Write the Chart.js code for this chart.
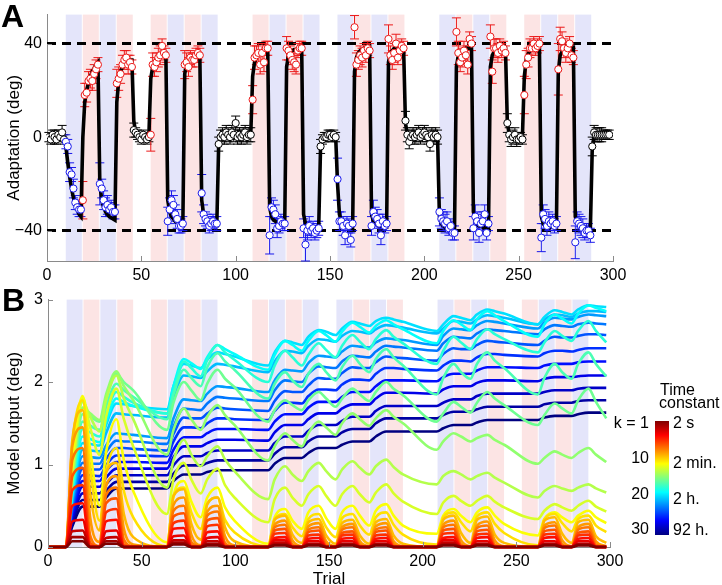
<!DOCTYPE html>
<html><head><meta charset="utf-8">
<script src="https://cdn.jsdelivr.net/npm/chart.js@4"></script>
<style>
html,body{margin:0;padding:0;background:#fff;}
#wrap{position:relative;width:722px;height:585px;overflow:hidden;font-family:"Liberation Sans",Arial,Helvetica,sans-serif;}
canvas{position:absolute;left:0;}
#cA{top:0;} #cB{top:285px;}
.lbl{position:absolute;color:#000;white-space:nowrap;line-height:16px;font-size:16px;}
.big{position:absolute;font-weight:bold;font-size:32px;line-height:32px;}
#cbar{position:absolute;left:655px;top:421px;width:14px;height:114px;
background:linear-gradient(to bottom,#800000 0%,#ff0000 12.5%,#ffff00 37.5%,#00ffff 62.5%,#0000ff 87.5%,#000080 100%);}
</style></head><body>
<div id="wrap">
<canvas id="cA" width="722" height="292"></canvas>
<canvas id="cB" width="722" height="300"></canvas>
<div class="big" style="left:1px;top:0px;">A</div>
<div class="big" style="left:2px;top:284px;">B</div>
<div id="cbar"></div>
<div class="lbl" style="left:660px;top:382px;">Time</div>
<div class="lbl" style="left:659px;top:395px;">constant</div>
<div class="lbl" style="right:73px;top:415px;">k = 1</div>
<div class="lbl" style="right:73px;top:450px;">10</div>
<div class="lbl" style="right:73px;top:486px;">20</div>
<div class="lbl" style="right:73px;top:521px;">30</div>
<div class="lbl" style="left:673px;top:415px;">2 s</div>
<div class="lbl" style="left:673px;top:455px;">2 min.</div>
<div class="lbl" style="left:673px;top:491px;">2 h.</div>
<div class="lbl" style="left:673px;top:522px;">92 h.</div>
</div>
<script>
// ---------- Blocks (perturbation schedule) ----------
const blockStart = [10,19,28,37,55,64,73,82,109,118,127,136,154,163,172,181,208,217,226,235,253,262,271,280];
const blockEnd   = [18,27,36,45,63,72,81,90,117,126,135,144,162,171,180,189,216,225,234,243,261,270,279,288];
const blockType  = ['B','R','B','R','R','B','R','B','R','B','R','B','B','R','B','R','B','R','B','R','R','B','R','B'];

// ---------- Panel A: measured adaptation (deg), trials 1..298 ----------
const adaptation = [
0,-1,1,0,-1,1,0,2,-1,
-2,-4,-15,-16,-22,-28,-30,-31,-31,
-27,18,19,24,25,24,27,29,31,
-20,-22,-27,-30,-29,-31,-30,-32,-32,
23,25,27,31,33,34,31,32,30,
3,2,1,0,-1,1,0,-1,0,
1,31,30,32,34,35,39,36,35,
-36,-31,-27,-29,-33,-35,-38,-38,-37,
31,32,30,34,33,33,35,36,35,
-24,-33,-35,-36,-38,-37,-36,-37,-37,
-3,0,1,0,2,1,0,2,1,6,0,1,0,1,2,0,1,1,
16,34,35,36,31,36,32,38,38,
-42,-30,-31,-33,-39,-38,-36,-37,-37,
38,37,35,33,32,31,37,38,38,
-39,-46,-40,-38,-40,-39,-41,-40,-39,
-4,-1,0,0,1,1,0,1,0,
-18,-36,-36,-38,-42,-37,-38,-44,-37,
47,31,33,35,34,37,35,38,37,
-38,-32,-34,-35,-37,-42,-36,-38,-37,
42,35,33,36,40,34,37,39,38,
7,1,-2,0,1,0,1,2,0,1,2,1,0,-3,1,0,1,0,
-32,-35,-36,-37,-36,-39,-38,-41,-41,
45,36,32,34,37,35,31,42,40,
-39,-34,-36,-41,-37,-36,-33,-41,-37,
43,28,38,38,36,39,37,38,36,
6,1,-1,0,1,-1,-1,0,-1,
18,31,34,38,38,40,38,39,40,
-43,-33,-35,-38,-36,-37,-36,-38,-37,
29,42,41,38,36,38,40,35,34,
-45,-36,-37,-38,-39,-41,-40,-40,-42,
-4,2,1,1,1,1,1,1,1,1];

const adaptErr = [
2,2,2,3,2,2,2,3,2,
3,3,4,3,4,3,3,3,3,
8,5,4,4,4,4,4,4,3,
9,4,4,4,4,3,3,3,3,
6,5,4,4,4,3,4,3,3,
3,2,2,2,2,2,2,2,2,
7,5,4,4,4,4,3,3,3,
6,5,4,4,4,4,3,3,3,
6,4,4,3,3,3,3,3,3,
8,4,3,3,3,3,3,3,3,
3,3,3,3,3,3,3,3,3,3,3,3,3,3,3,3,3,3,
6,5,4,4,4,4,4,3,3,
8,4,4,4,4,3,3,3,3,
5,4,4,4,4,4,3,3,3,
4,7,4,4,3,3,3,3,3,
3,2,2,2,2,2,2,2,2,
9,4,4,4,4,3,3,3,3,
5,5,4,4,4,3,3,3,3,
4,5,4,4,4,4,3,3,3,
6,4,4,4,4,3,3,3,3,
4,3,3,3,3,3,3,3,3,3,3,3,3,3,3,3,3,3,
6,4,4,4,4,3,3,3,3,
6,5,4,4,4,4,4,3,3,
5,5,4,4,4,4,4,3,3,
5,5,4,4,4,3,3,3,3,
4,3,3,3,3,3,2,2,2,
8,6,4,4,3,3,3,3,3,
6,4,4,4,4,3,3,3,3,
11,5,4,4,4,3,3,3,3,
7,4,4,4,4,3,3,3,3,
4,3,3,3,3,3,2,2,2,2];

const modelFit = [
0,0,0,0,0,0,0,0,0,
-4,-11,-17,-22,-26,-29,-31,-33,-34,
0,15,20,23,26,28,29.5,31,32,
-20,-27,-30,-32,-33,-34,-34.5,-35,-35.5,
15,24,28,30,31,32,32.5,33,33,
7,2,1,0.5,0.5,0.5,0.5,0.5,0.5,
25,30,32,33,34,35,35.5,36,36,
-27,-32,-34,-35,-36,-36.5,-37,-37,-37.5,
27,32,33,34,34.5,35,35,35.5,35.5,
-27,-33,-35,-36,-36.5,-37,-37,-37,-37.5,
-3,0,0.5,1,1,1,1,1,1,1,1,1,1,1,1,1,1,1,
26,32,34,35,36,36.5,37,37.5,38,
-30,-34,-35.5,-36,-36.5,-37,-37,-37.5,-37.5,
30,35,36,37,37.5,37.5,38,38,38,
-33,-37,-38,-38.5,-38.5,-39,-39,-39,-39,
-4,-1,0,0.5,0.5,0.5,0.5,0.5,0.5,
-20,-33,-36,-37,-38,-38.5,-38.5,-38.5,-39,
28,34,36,37,37.5,38,38,38,38.5,
-33,-36,-37,-37.5,-38,-38,-38,-38.5,-38.5,
32,36,37,38,38,38.5,38.5,38.5,38.5,
6,1,0.5,0.5,0.5,0.5,0.5,0.5,0.5,0.5,0.5,0.5,0.5,0.5,0.5,0.5,0.5,0.5,
-34,-37,-38,-38.5,-39,-39,-39.5,-39.5,-39.5,
30,35,36.5,37,37.5,38,38,38,38.5,
-32,-36,-37.5,-38,-38,-38.5,-38.5,-38.5,-39,
30,35,36.5,37,37.5,38,38,38,38,
6,1.5,0.5,0.5,0.5,0.5,0.5,0.5,0.5,
26,33,35.5,37,38,38.5,39,39,39,
-34,-37,-38,-38,-38.5,-38.5,-38.5,-39,-39,
28,35,36.5,37.5,38,38,38.5,38.5,38.5,
-34,-37,-38,-38.5,-39,-39,-39,-39.5,-39.5,
-5,0,1,1,1,1,1,1,1,1];

const targetLevels = [40, -40];
const ticksXTrial = [0,50,100,150,200,250,300];
const ticksYAdapt = [-40,0,40];
const ticksYModel = [0,1,2,3];

// ---------- Panel B: model output per component k = 1..30 ----------
const modelX = [0,9.5,13,18.5,22.5,27.5,31,36.5,40.5,45.5,63.5,67,72.5,76.5,81.5,85,90.5,94.5,99.5,117.5,121,126.5,130.5,135.5,139,144.5,148.5,153.5,157,162.5,166.5,171.5,175,180.5,184.5,189.5,207.5,211,216.5,220.5,225.5,229,234.5,238.5,243.5,261.5,265,270.5,274.5,279.5,283,288.5,292.5,298];
const outputByK = [
/*k=1*/ [0,0,.07,.07,0,0, .04,.04,0,0,0, .03,.03,0,0, .02,.02,0,0,0, .02,.02,0,0, .02,.02,0,0, .02,.02,0,0, .02,.02,0,0,0, .02,.02,0,0, .02,.02,0,0,0, .02,.02,0,0, .02,.02,0,0],
/*k=2*/ [0,0,.12,.12,0,0, .07,.07,0,0,0, .05,.05,0,0, .04,.04,0,0,0, .03,.03,0,0, .03,.03,0,0, .03,.03,0,0, .03,.03,0,0,0, .03,.03,0,0, .03,.03,0,0,0, .03,.03,0,0, .03,.03,0,0],
/*k=3*/ [0,0,.19,.2,0,0, .11,.12,0,0,0, .08,.08,0,0, .07,.07,0,0,0, .05,.05,0,0, .04,.04,0,0, .04,.04,0,0, .04,.04,0,0,0, .05,.05,0,0, .04,.04,0,0,0, .04,.04,0,0, .04,.04,0,0],
/*k=4*/ [0,0,.31,.33,0,0, .19,.2,0,0,0, .13,.14,0,0, .11,.12,0,0,0, .08,.08,0,0, .07,.07,0,0, .07,.07,0,0, .07,.07,0,0,0, .08,.08,0,0, .07,.07,0,0,0, .07,.07,0,0, .07,.07,0,0],
/*k=5*/ [0,0,.50,.53,0,0, .31,.33,0,0,0, .22,.23,0,0, .18,.19,0,0,0, .11,.12,0,0, .10,.11,0,0, .10,.11,0,0, .10,.11,0,0,0, .11,.12,0,0, .11,.12,0,0,0, .11,.12,0,0, .10,.11,0,0],
/*k=6*/ [0,0,.69,.75,.01,0, .42,.46,0,0,0, .29,.32,0,0, .25,.27,0,0,0, .16,.17,0,0, .14,.15,0,0, .14,.15,0,0, .14,.15,0,0,0, .16,.17,0,0, .15,.16,0,0,0, .15,.16,0,0, .14,.15,0,0],
/*k=7*/ [0,0,.86,.96,.05,0, .53,.59,.03,0,0, .37,.41,.02,0, .32,.35,.02,0,0, .20,.22,.01,0, .18,.20,.01,0, .17,.19,.01,0, .18,.20,.01,0,0, .20,.22,.01,0, .19,.21,.01,0,0, .19,.21,.01,0, .17,.19,.01,0],
/*k=8*/ [0,0,1.06,1.2,.14,.01, .63,.72,.09,.01,0, .44,.5,.06,.01, .38,.43,.05,0,0, .24,.27,.03,0, .21,.24,.03,0, .21,.24,.03,0, .21,.24,.03,0,0, .24,.27,.03,0, .23,.26,.03,0,0, .23,.26,.03,0, .21,.24,.03,0],
/*k=9*/ [0,0,1.23,1.45,.36,.06, .74,.86,.22,.03,0, .51,.60,.15,.02, .43,.50,.13,.02,0, .27,.32,.08,.01, .25,.29,.07,.01, .24,.28,.07,.01, .25,.29,.07,.01,0, .27,.32,.08,.01, .26,.31,.08,.01,0, .26,.30,.08,.01, .24,.28,.07,.01],
/*k=10*/[0,0,1.30,1.66,.66,.20, .90,1.02,.40,.12,0, .62,.70,.28,.09, .52,.60,.24,.07,0, .33,.38,.15,.05, .30,.34,.14,.04, .29,.33,.14,.04, .30,.34,.14,.04,0, .33,.38,.17,.05, .33,.37,.15,.05,0, .32,.36,.16,.05, .30,.33,.13,.05],
/*k=11*/[0,0,1.25,1.78,.95,.32, .92,1.20,.68,.36,.01, .62,.72,.42,.22, .52,.60,.33,.18,.01, .34,.40,.24,.13, .34,.40,.24,.12, .35,.40,.26,.15, .36,.42,.27,.15,.03, .36,.42,.30,.19, .37,.42,.28,.17,.02, .34,.40,.29,.19, .34,.38,.26,.18],
/*k=12*/[0,0,1.05,1.83,1.18,.50, 1.15,1.55,1.05,.68,.06, .62,.80,.55,.36, .60,.72,.48,.32,.04, .36,.46,.32,.22, .42,.50,.35,.22, .42,.50,.38,.26, .44,.52,.38,.26,.16, .38,.46,.38,.30, .42,.48,.38,.28,.14, .34,.42,.36,.30, .38,.44,.36,.29],
/*k=13*/[0,0,.92,1.81,1.45,1.12, 1.58,1.92,1.55,1.22,.40, .82,1.02,.82,.65, .82,.95,.75,.60,.30, .58,.72,.60,.50, .64,.74,.62,.50, .64,.74,.64,.54, .66,.76,.65,.55,.40, .54,.62,.56,.50, .56,.62,.55,.48,.34, .44,.52,.48,.44, .50,.56,.49,.43],
/*k=14*/[0,0,.88,1.76,1.58,1.40, 1.78,2.08,1.80,1.55,.72, 1.05,1.30,1.12,.98, 1.10,1.22,1.06,.92,.58, .82,.98,.88,.80, .92,1.02,.92,.82, .94,1.04,.96,.88, .98,1.06,.97,.88,.76, .86,.92,.88,.82, .86,.90,.84,.78,.60, .68,.74,.71,.68, .72,.76,.71,.66],
/*k=15*/[0,0,.82,1.69,1.62,1.54, 1.85,2.13,1.95,1.78,1.12, 1.42,1.68,1.55,1.42, 1.58,1.72,1.60,1.48,1.05, 1.22,1.38,1.30,1.22, 1.38,1.52,1.45,1.36, 1.50,1.62,1.55,1.47, 1.56,1.66,1.58,1.50,1.18, 1.28,1.38,1.34,1.28, 1.32,1.36,1.30,1.24,1.01, 1.08,1.16,1.12,1.08, 1.14,1.20,1.12,1.03],
/*k=16*/[0,0,.78,1.61,1.58,1.52, 1.80,2.10,2.00,1.90,1.42, 1.75,2.00,1.90,1.78, 1.98,2.15,2.04,1.94,1.52, 1.66,1.78,1.72,1.66, 1.78,1.88,1.80,1.70, 1.80,1.92,1.85,1.77, 1.88,2.00,1.92,1.84,1.52, 1.62,1.76,1.70,1.63, 1.75,1.88,1.80,1.72,1.48, 1.60,1.74,1.68,1.62, 1.78,1.92,1.76,1.56],
/*k=17*/[0,0,.74,1.52,1.47,1.42, 1.70,1.98,1.90,1.82,1.55, 1.85,2.15,2.05,1.95, 2.18,2.35,2.25,2.15,1.80, 1.98,2.12,2.02,1.94, 2.10,2.22,2.12,2.02, 2.18,2.32,2.22,2.12, 2.28,2.40,2.30,2.20,1.85, 2.05,2.22,2.12,2.04, 2.22,2.36,2.26,2.17,1.85, 2.05,2.22,2.12,2.04, 2.22,2.36,2.22,2.07],
/*k=18*/[0,0,.70,1.43,1.39,1.34, 1.60,1.88,1.82,1.75,1.62, 1.88,2.25,2.17,2.07, 2.27,2.45,2.36,2.27,2.00, 2.20,2.38,2.30,2.20, 2.33,2.47,2.39,2.30, 2.44,2.57,2.49,2.40, 2.52,2.63,2.55,2.47,2.22, 2.38,2.55,2.48,2.40, 2.52,2.64,2.58,2.52,2.36, 2.48,2.62,2.56,2.50, 2.62,2.74,2.62,2.48],
/*k=19*/[0,0,.66,1.34,1.31,1.27, 1.52,1.80,1.76,1.71,1.62, 1.95,2.28,2.23,2.16, 2.30,2.45,2.40,2.34,2.15, 2.33,2.50,2.45,2.38, 2.50,2.62,2.57,2.49, 2.61,2.72,2.67,2.60, 2.68,2.75,2.70,2.64,2.47, 2.62,2.75,2.70,2.63, 2.76,2.86,2.81,2.74,2.55, 2.70,2.82,2.77,2.71, 2.83,2.93,2.90,2.86],
/*k=20*/[0,0,.62,1.26,1.25,1.23, 1.48,1.74,1.73,1.71,1.67, 1.95,2.22,2.20,2.17, 2.27,2.36,2.34,2.31,2.20, 2.36,2.50,2.48,2.45, 2.55,2.63,2.61,2.57, 2.65,2.73,2.71,2.68, 2.74,2.78,2.76,2.73,2.62, 2.70,2.80,2.78,2.75, 2.82,2.88,2.86,2.83,2.70, 2.79,2.87,2.85,2.82, 2.88,2.93,2.92,2.91],
/*k=21*/[0,0,.58,1.18,1.17,1.16, 1.38,1.62,1.61,1.60,1.57, 1.82,2.08,2.07,2.05, 2.13,2.22,2.21,2.19,2.12, 2.25,2.38,2.37,2.35, 2.44,2.52,2.51,2.49, 2.56,2.62,2.61,2.59, 2.64,2.69,2.68,2.66,2.59, 2.65,2.74,2.73,2.71, 2.76,2.81,2.80,2.78,2.70, 2.76,2.82,2.81,2.79, 2.83,2.86,2.86,2.85],
/*k=22*/[0,0,.55,1.10,1.09,1.08, 1.23,1.38,1.37,1.36,1.32, 1.56,1.79,1.78,1.77, 1.86,1.95,1.94,1.93,1.88, 2.02,2.15,2.14,2.13, 2.23,2.32,2.31,2.30, 2.37,2.44,2.43,2.42, 2.48,2.53,2.52,2.51,2.45, 2.56,2.65,2.64,2.63, 2.69,2.74,2.73,2.71,2.65, 2.72,2.78,2.77,2.76, 2.79,2.82,2.81,2.80],
/*k=23*/[0,0,.51,1.02,1.01,1.01, 1.15,1.29,1.28,1.28,1.25, 1.46,1.68,1.67,1.66, 1.74,1.82,1.81,1.80,1.77, 1.90,2.02,2.01,2.00, 2.10,2.19,2.18,2.17, 2.25,2.32,2.31,2.30, 2.37,2.44,2.43,2.42,2.38, 2.47,2.55,2.54,2.53, 2.59,2.64,2.63,2.62,2.58, 2.64,2.69,2.68,2.67, 2.70,2.72,2.71,2.70],
/*k=24*/[0,0,.48,.95,.94,.94, 1.07,1.20,1.20,1.19,1.17, 1.37,1.57,1.56,1.56, 1.62,1.69,1.68,1.67,1.65, 1.77,1.89,1.88,1.88, 1.96,2.05,2.04,2.04, 2.11,2.18,2.17,2.17, 2.24,2.31,2.30,2.29,2.26, 2.34,2.41,2.40,2.40, 2.45,2.50,2.49,2.48,2.45, 2.50,2.55,2.54,2.54, 2.56,2.58,2.58,2.57],
/*k=25*/[0,0,.44,.87,.87,.86, .99,1.11,1.11,1.11,1.10, 1.28,1.45,1.45,1.44, 1.50,1.56,1.56,1.55,1.54, 1.65,1.75,1.75,1.74, 1.83,1.91,1.91,1.90, 1.97,2.03,2.03,2.02, 2.10,2.17,2.17,2.16,2.14, 2.20,2.26,2.26,2.25, 2.30,2.34,2.34,2.33,2.31, 2.35,2.38,2.38,2.37, 2.39,2.41,2.41,2.41],
/*k=26*/[0,0,.40,.80,.80,.80, .92,1.03,1.03,1.03,1.02, 1.18,1.33,1.33,1.33, 1.38,1.43,1.43,1.43,1.42, 1.52,1.61,1.61,1.61, 1.69,1.76,1.76,1.76, 1.82,1.88,1.88,1.88, 1.95,2.02,2.02,2.02,2.01, 2.06,2.10,2.10,2.10, 2.14,2.18,2.18,2.18,2.17, 2.20,2.22,2.22,2.22, 2.24,2.25,2.25,2.25],
/*k=27*/[0,0,.37,.73,.73,.73, .84,.95,.95,.95,.95, 1.09,1.22,1.22,1.22, 1.26,1.30,1.30,1.30,1.29, 1.39,1.48,1.48,1.48, 1.55,1.62,1.62,1.62, 1.68,1.73,1.73,1.73, 1.80,1.87,1.87,1.87,1.86, 1.91,1.95,1.95,1.95, 1.99,2.02,2.02,2.02,2.01, 2.04,2.06,2.06,2.06, 2.07,2.08,2.08,2.08],
/*k=28*/[0,0,.33,.65,.65,.65, .76,.87,.87,.87,.87, .99,1.10,1.10,1.10, 1.14,1.17,1.17,1.17,1.17, 1.26,1.34,1.34,1.34, 1.41,1.48,1.48,1.48, 1.53,1.58,1.58,1.58, 1.65,1.71,1.71,1.71,1.71, 1.75,1.79,1.79,1.79, 1.83,1.86,1.86,1.86,1.86, 1.88,1.90,1.90,1.90, 1.92,1.93,1.93,1.93],
/*k=29*/[0,0,.29,.57,.57,.57, .68,.79,.79,.79,.79, .89,.99,.99,.99, 1.02,1.05,1.05,1.05,1.05, 1.13,1.21,1.21,1.21, 1.28,1.34,1.34,1.34, 1.39,1.43,1.43,1.43, 1.50,1.56,1.56,1.56,1.56, 1.60,1.64,1.64,1.64, 1.67,1.70,1.70,1.70,1.70, 1.73,1.75,1.75,1.75, 1.77,1.78,1.78,1.78],
/*k=30*/[0,0,.25,.49,.49,.49, .60,.71,.71,.71,.71, .80,.88,.88,.88, .91,.93,.93,.93,.93, 1.01,1.08,1.08,1.08, 1.14,1.20,1.20,1.20, 1.24,1.28,1.28,1.28, 1.34,1.40,1.40,1.40,1.40, 1.44,1.48,1.48,1.48, 1.51,1.54,1.54,1.54,1.54, 1.57,1.59,1.59,1.59, 1.61,1.63,1.63,1.63]
];

// ---------- styling helpers ----------
const FONT = "'Liberation Sans', Arial, Helvetica, sans-serif";
Chart.defaults.font.family = FONT;
Chart.defaults.color = '#000';
const AXIS_GRAY = '#8a8a8a';
const BAND_BLUE = 'rgb(228,229,250)';
const BAND_RED  = 'rgb(252,228,228)';
const PT_BLUE = 'rgb(25,25,235)';
const PT_RED  = 'rgb(235,25,25)';

function jet(t){
  const c = v => Math.max(0, Math.min(1, v));
  const r = c(1.5 - Math.abs(4*t - 3)), g = c(1.5 - Math.abs(4*t - 2)), b = c(1.5 - Math.abs(4*t - 1));
  return `rgb(${Math.round(r*255)},${Math.round(g*255)},${Math.round(b*255)})`;
}
const trialNumbers = adaptation.map((_, i) => i + 1);
function trialColor(t){
  for (let i = 0; i < blockStart.length; i++){
    if (t >= blockStart[i] && t <= blockEnd[i]) return blockType[i] === 'B' ? PT_BLUE : PT_RED;
  }
  return '#000';
}
const pointColors = trialNumbers.map(trialColor);
const minusFmt = v => v < 0 ? '\u2212' + Math.abs(v) : String(v);

const bandPlugin = {
  id: 'bands',
  beforeDatasetsDraw(chart){
    const {ctx, chartArea: a, scales: {x}} = chart;
    ctx.save();
    blockStart.forEach((s, i) => {
      const x0 = x.getPixelForValue(s - 0.05), x1 = x.getPixelForValue(blockEnd[i] + 0.45);
      ctx.fillStyle = blockType[i] === 'B' ? BAND_BLUE : BAND_RED;
      ctx.fillRect(x0, a.top, x1 - x0, a.bottom - a.top);
    });
    ctx.restore();
  }
};
const inwardTicks = {
  id: 'inTicks',
  afterDraw(chart){
    const {ctx, chartArea: a, scales: {x, y}} = chart;
    ctx.save(); ctx.strokeStyle = AXIS_GRAY; ctx.lineWidth = 1; ctx.beginPath();
    x.ticks.forEach(t => { const p = Math.round(x.getPixelForValue(t.value)) + 0.5; ctx.moveTo(p, a.bottom); ctx.lineTo(p, a.bottom - 5); });
    y.ticks.forEach(t => { const p = Math.round(y.getPixelForValue(t.value)) + 0.5; ctx.moveTo(a.left, p); ctx.lineTo(a.left + 5, p); });
    ctx.stroke(); ctx.restore();
  }
};
const errorBars = {
  id: 'errBars',
  afterDatasetDraw(chart, args){
    if (args.index !== 2) return;
    const {ctx, scales: {x, y}} = chart;
    ctx.save(); ctx.lineWidth = 1;
    adaptation.forEach((v, i) => {
      const px = x.getPixelForValue(trialNumbers[i]);
      const top = y.getPixelForValue(v + adaptErr[i]), bot = y.getPixelForValue(v - adaptErr[i]);
      ctx.strokeStyle = pointColors[i];
      ctx.beginPath();
      ctx.moveTo(px, top); ctx.lineTo(px, bot);
      ctx.moveTo(px - 4.5, top); ctx.lineTo(px + 4.5, top);
      ctx.moveTo(px - 4.5, bot); ctx.lineTo(px + 4.5, bot);
      ctx.stroke();
    });
    ctx.restore();
  }
};

function xAxis(height, title){
  return {
    type: 'linear', min: 0, max: 300,
    afterFit(s){ s.height = height; },
    afterBuildTicks(s){ s.ticks = ticksXTrial.map(v => ({value: v})); },
    ticks: {font: {size: 16}, color: '#000', padding: 5, maxRotation: 0, autoSkip: false},
    grid: {display: false, drawTicks: false},
    border: {display: true, color: AXIS_GRAY, width: 1},
    title: title ? {display: true, text: title, font: {size: 17}, color: '#000', padding: {top: 0, bottom: -5}} : {display: false}
  };
}
function yAxis(min, max, width, tickVals, title){
  return {
    type: 'linear', min, max,
    afterFit(s){ s.width = width; },
    afterBuildTicks(s){ s.ticks = tickVals.map(v => ({value: v})); },
    ticks: {font: {size: 16}, color: '#000', padding: 5, callback: minusFmt},
    grid: {display: false, drawTicks: false},
    border: {display: true, color: AXIS_GRAY, width: 1},
    title: {display: true, text: title, font: {size: 17}, color: '#000', padding: {top: 4, bottom: 0}}
  };
}

// ---------- Chart A ----------
new Chart(document.getElementById('cA'), {
  type: 'scatter',
  data: {
    datasets: [
      {type: 'scatter', label: 'Data', data: trialNumbers.map((t, i) => ({x: t, y: adaptation[i]})),
       pointRadius: 3.6, pointBackgroundColor: '#fff', pointBorderColor: pointColors, pointBorderWidth: 1, order: 0},
      {type: 'line', label: 'Model', data: trialNumbers.map((t, i) => ({x: t, y: modelFit[i]})),
       borderColor: '#000', borderWidth: 3.6, pointRadius: 0, fill: false, order: 1},
      {type: 'line', label: '+40', data: [{x: 0, y: targetLevels[0]}, {x: 300, y: targetLevels[0]}],
       borderColor: '#000', borderWidth: 3, borderDash: [9, 6], pointRadius: 0, order: 2},
      {type: 'line', label: '-40', data: [{x: 0, y: targetLevels[1]}, {x: 300, y: targetLevels[1]}],
       borderColor: '#000', borderWidth: 3, borderDash: [9, 6], pointRadius: 0, order: 2}
    ]
  },
  options: {
    responsive: false, animation: false, events: [],
    layout: {padding: {left: 0, right: 109, top: 12, bottom: 5}},
    plugins: {legend: {display: false}, tooltip: {enabled: false}},
    scales: {x: xAxis(26, null), y: yAxis(-53, 52.4, 47, ticksYAdapt, 'Adaptation (deg)')}
  },
  plugins: [bandPlugin, errorBars, inwardTicks]
});

// ---------- Chart B ----------
const datasetsB = outputByK.map((vals, i) => {
  const k = i + 1;
  return {label: 'k = ' + k, data: modelX.map((x, j) => ({x, y: vals[j]})),
    borderColor: jet((30 - k) / 29), borderWidth: 2.6, pointRadius: 0, fill: false,
    cubicInterpolationMode: 'monotone', clip: 6};
});
new Chart(document.getElementById('cB'), {
  type: 'line',
  data: {datasets: datasetsB},
  options: {
    responsive: false, animation: false, events: [],
    layout: {padding: {left: 0, right: 112, top: 12, bottom: 0}},
    plugins: {legend: {display: false}, tooltip: {enabled: false}},
    scales: {x: xAxis(38, 'Trial'), y: yAxis(0, 3, 48, ticksYModel, 'Model output (deg)')}
  },
  plugins: [bandPlugin, inwardTicks]
});
</script>
</body></html>
